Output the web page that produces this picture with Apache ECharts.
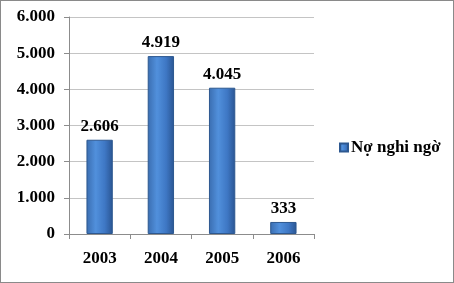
<!DOCTYPE html>
<html><head><meta charset="utf-8">
<script src="https://cdn.jsdelivr.net/npm/echarts@6/dist/echarts.min.js"></script>
<style>
html,body{margin:0;padding:0;background:#fff;}
#c{position:absolute;left:0;top:0;width:452px;height:281px;border:1px solid #8a8a8a;background:#fff;}
</style></head>
<body><div id="c"></div>
<script>
const categories = ['2003','2004','2005','2006'];
const seriesName = 'Nợ nghi ngờ';
const values = [2606, 4919, 4045, 333];
const yTicks = [0, 1000, 2000, 3000, 4000, 5000, 6000];

const fmt = v => String(v).replace(/\B(?=(\d{3})+(?!\d))/g, '.');
const font = '"Liberation Serif", "Times New Roman", serif';
const chart = echarts.init(document.getElementById('c'), null, {renderer:'canvas'});
chart.setOption({
  animation:false,
  grid:{left:68, right:139, top:16, bottom:48, containLabel:false},
  legend:{
    data:[seriesName], left:333, top:133, icon:'rect', itemWidth:8, itemHeight:8, itemGap:4,
    textStyle:{fontFamily:font, fontWeight:'bold', fontSize:17, color:'#000', padding:[0,0,0,-2]}
  },
  xAxis:{
    type:'category', data:categories,
    axisLine:{lineStyle:{color:'#8c8c8c'}},
    axisTick:{show:true, length:5, lineStyle:{color:'#8c8c8c'}},
    axisLabel:{fontFamily:font, fontWeight:'bold', fontSize:17, color:'#000', margin:16}
  },
  yAxis:{
    type:'value', min:yTicks[0], max:yTicks[yTicks.length-1], interval:1000,
    axisLine:{show:true, lineStyle:{color:'#8c8c8c'}},
    axisTick:{show:true, length:5, lineStyle:{color:'#8c8c8c'}},
    splitLine:{lineStyle:{color:'#c4c4c4'}},
    axisLabel:{fontFamily:font, fontWeight:'bold', fontSize:17, color:'#000', margin:14, formatter:fmt}
  },
  series:[{
    name:seriesName, type:'bar', data:values, barWidth:'43%',
    itemStyle:{
      color:new echarts.graphic.LinearGradient(0,0,1,0,[
        {offset:0,color:'#3a6db0'},{offset:0.35,color:'#5190dc'},
        {offset:0.7,color:'#3e77c4'},{offset:1,color:'#2a5592'}]),
      borderColor:'#2d5890', borderWidth:1
    },
    label:{show:true, position:'top', distance:5, fontFamily:font, fontWeight:'bold', fontSize:17, color:'#000', formatter:p=>fmt(p.value)}
  }]
});
</script></body></html>
